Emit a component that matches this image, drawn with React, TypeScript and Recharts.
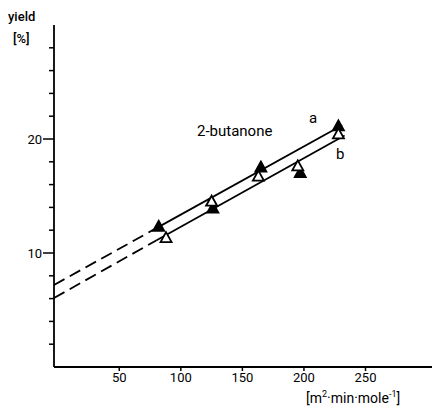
import { ComposedChart, Line, Scatter, XAxis, YAxis } from 'recharts'

// fitted lines (x: m2.min.mole-1, y: yield %)
const lineADashed = [
  { x: -3, y: 7.2 },
  { x: 78, y: 12.05 },
]
const lineASolid = [
  { x: 78, y: 12.05 },
  { x: 231, y: 21.2 },
]
const lineBDashed = [
  { x: -3, y: 6.05 },
  { x: 80, y: 11.1 },
]
const lineBSolid = [
  { x: 80, y: 11.1 },
  { x: 233, y: 20.3 },
]

// measured points
const filledPoints = [
  { x: 82, y: 12.3 },
  { x: 126, y: 13.9 },
  { x: 165, y: 17.5 },
  { x: 197, y: 17.0 },
  { x: 228, y: 21.1 },
]
const openPoints = [
  { x: 88, y: 11.3 },
  { x: 125, y: 14.5 },
  { x: 163, y: 16.7 },
  { x: 195, y: 17.6 },
  { x: 228, y: 20.4 },
]

const xTicks = [50, 100, 150, 200, 250]
const yTicks = [2, 4, 6, 8, 10, 12, 14, 16, 18, 20, 22, 24, 26, 28]
const yLabeled = [10, 20]

const font = 'Roboto, "Noto Sans", sans-serif'

function YTick({ x, y, payload }: { x?: number; y?: number; payload?: { value: number } }) {
  const v = payload?.value ?? 0
  const major = yLabeled.includes(v)
  const len = major ? 11 : 5
  const px = x ?? 0
  const py = y ?? 0
  return (
    <g>
      <line x1={px - len} x2={px} y1={py} y2={py} stroke="#000" strokeWidth={1.5} />
      {major && (
        <text x={px - len - 1} y={py} dy="0.35em" textAnchor="end" fontSize={13} fill="#000" fontFamily={font}>
          {v}
        </text>
      )}
    </g>
  )
}

function Triangle(props: { cx?: number; cy?: number; filled?: boolean }) {
  const cx = props.cx ?? 0
  const cy = props.cy ?? 0
  return (
    <path
      d={`M${cx},${cy - 6} L${cx + 5.5},${cy + 4} L${cx - 5.5},${cy + 4} Z`}
      fill={props.filled ? '#000' : '#fff'}
      stroke="#000"
      strokeWidth={1.8}
      strokeLinejoin="miter"
    />
  )
}

const txt = { position: 'absolute' as const, fontFamily: font, color: '#000', lineHeight: 1, whiteSpace: 'nowrap' as const }

export default function App() {
  return (
    <div style={{ position: 'absolute', left: 0, top: 0, width: 432, height: 408, background: '#fff' }}>
      <ComposedChart width={432} height={408} margin={{ top: 25, right: 0, bottom: 0, left: 0 }}>
        <XAxis
          dataKey="x"
          type="number"
          domain={[-3, 304]}
          ticks={xTicks}
          interval={0}
          height={41}
          tickSize={4}
          tickLine={{ stroke: '#000', strokeWidth: 1.5 }}
          axisLine={{ stroke: '#000', strokeWidth: 1.8 }}
          tick={{ fill: '#000', fontSize: 13, fontFamily: font }}
        />
        <YAxis
          dataKey="y"
          type="number"
          domain={[0, 30]}
          ticks={yTicks}
          interval={0}
          width={54}
          tickSize={0}
          tickMargin={0}
          tickLine={false}
          axisLine={{ stroke: '#000', strokeWidth: 1.8 }}
          tick={<YTick />}
        />
        <Line data={lineADashed} dataKey="y" stroke="#000" strokeWidth={1.8} strokeDasharray="12 6" dot={false} activeDot={false} isAnimationActive={false} />
        <Line data={lineBDashed} dataKey="y" stroke="#000" strokeWidth={1.8} strokeDasharray="12 6" dot={false} activeDot={false} isAnimationActive={false} />
        <Line data={lineASolid} dataKey="y" stroke="#000" strokeWidth={1.8} dot={false} activeDot={false} isAnimationActive={false} />
        <Line data={lineBSolid} dataKey="y" stroke="#000" strokeWidth={1.8} dot={false} activeDot={false} isAnimationActive={false} />
        <Scatter data={filledPoints} dataKey="y" isAnimationActive={false} shape={(p: { cx?: number; cy?: number }) => <Triangle cx={p.cx} cy={p.cy} filled />} />
        <Scatter data={openPoints} dataKey="y" isAnimationActive={false} shape={(p: { cx?: number; cy?: number }) => <Triangle cx={p.cx} cy={p.cy} />} />
      </ComposedChart>
      <div style={{ ...txt, left: 8, top: 10, fontSize: 13, fontWeight: 500 }}>yield</div>
      <div style={{ ...txt, left: 13, top: 32, fontSize: 13, fontWeight: 500 }}>[%]</div>
      <div style={{ ...txt, left: 197, top: 124, fontSize: 15 }}>2-butanone</div>
      <div style={{ ...txt, left: 309, top: 111, fontSize: 15 }}>a</div>
      <div style={{ ...txt, left: 336, top: 147, fontSize: 15 }}>b</div>
      <div style={{ ...txt, left: 306, top: 390, fontSize: 14 }}>
        [m<sup style={{ fontSize: 9 }}>2</sup>·min·mole<sup style={{ fontSize: 9 }}>-1</sup>]
      </div>
    </div>
  )
}
